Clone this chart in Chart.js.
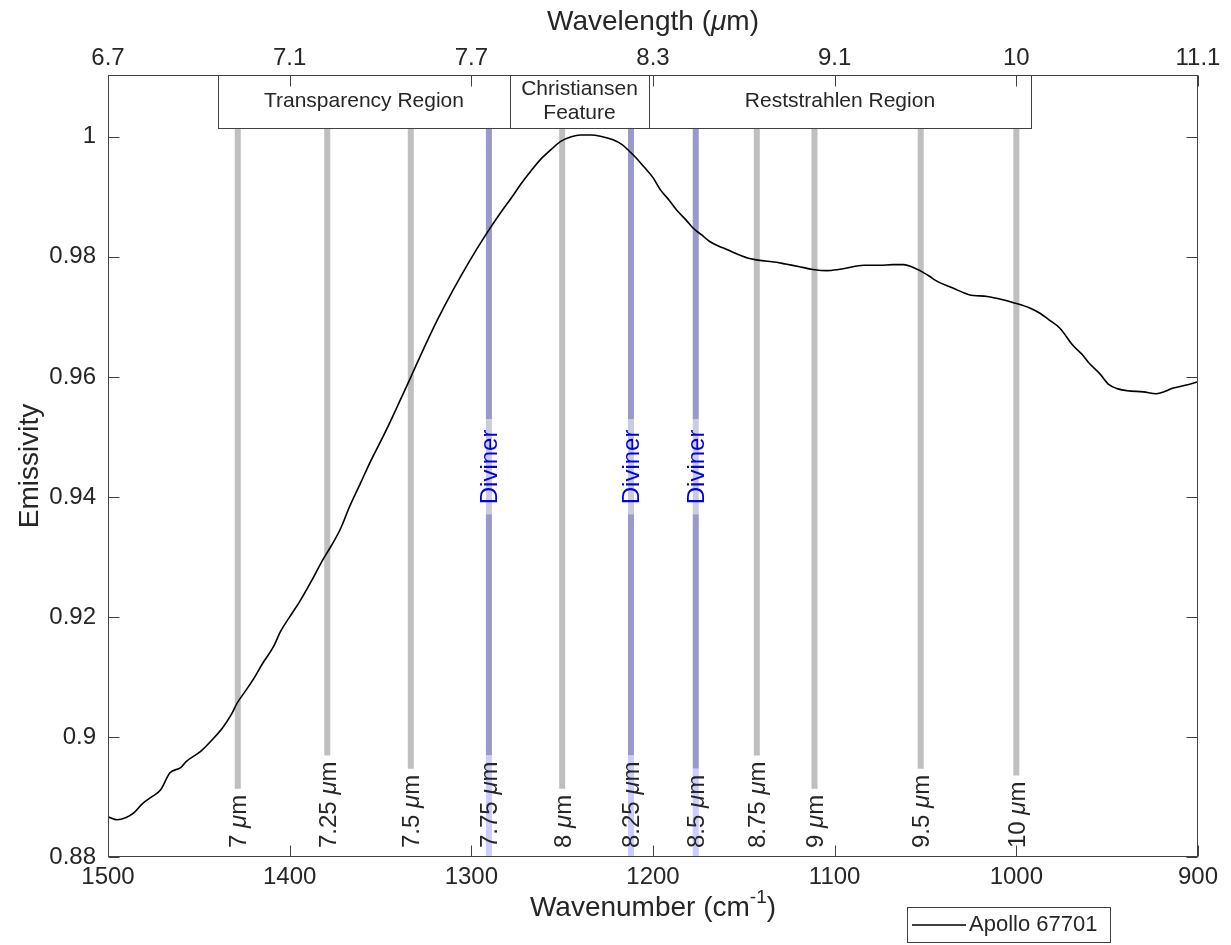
<!DOCTYPE html>
<html>
<head>
<meta charset="utf-8">
<script src="https://cdn.jsdelivr.net/npm/chart.js@4.4.0/dist/chart.umd.min.js"></script>
<style>
  html, body { margin: 0; padding: 0; background: #fff; }
  canvas { display: block; }
</style>
</head>
<body>
<canvas id="spectrumChart" width="1231" height="945"></canvas>
<script>
const FONT = "'Liberation Sans', Arial, sans-serif";
const INK = "#262626";

// ================= DATA =================
// Apollo 67701 emissivity spectrum (wavenumber in cm-1)
const wavenumbers = [
  1500, 1495, 1490, 1486, 1481, 1476, 1471, 1466, 1460, 1457, 1449, 1444, 1437, 1432,
  1429, 1424, 1419, 1415, 1409, 1405, 1400, 1394, 1388, 1382, 1377, 1372, 1367, 1361,
  1356, 1350, 1345, 1341, 1334, 1330, 1325, 1318, 1310, 1301, 1292, 1284, 1278, 1273,
  1268, 1262, 1256, 1251, 1245, 1240, 1234, 1229, 1222, 1217, 1213, 1209, 1205, 1200,
  1196, 1191, 1187, 1182, 1178, 1173, 1169, 1164, 1159, 1154, 1148, 1143, 1138, 1132,
  1127, 1120, 1112, 1104, 1098, 1094, 1084, 1075, 1068, 1062, 1058, 1053, 1048, 1044,
  1035, 1026, 1016, 1008, 1002, 992, 987, 982, 976, 969, 964, 960, 954, 949, 944, 939,
  930, 923, 918, 914, 907, 900
];
const emissivity = [
  0.8867, 0.8862, 0.8866, 0.8873, 0.8889, 0.8900, 0.8912, 0.8940, 0.8949, 0.8959, 0.8976, 0.8991, 0.9015, 0.9038,
  0.9056, 0.9078, 0.9101, 0.9122, 0.9150, 0.9176, 0.9200, 0.9228, 0.9260, 0.9294, 0.9319, 0.9347, 0.9384, 0.9423,
  0.9456, 0.9492, 0.9523, 0.9549, 0.9595, 0.9622, 0.9655, 0.9699, 0.9745, 0.9793, 0.9837, 0.9873, 0.9898, 0.9920,
  0.9940, 0.9962, 0.9979, 0.9992, 1.0000, 1.0003, 1.0003, 1.0001, 0.9995, 0.9987, 0.9976, 0.9964, 0.9950, 0.9932,
  0.9912, 0.9894, 0.9878, 0.9862, 0.9848, 0.9836, 0.9826, 0.9818, 0.9812, 0.9805, 0.9798, 0.9795, 0.9793, 0.9791,
  0.9788, 0.9784, 0.9779, 0.9777, 0.9779, 0.9781, 0.9786, 0.9786, 0.9787, 0.9787, 0.9784, 0.9777, 0.9768, 0.9760,
  0.9748, 0.9737, 0.9734, 0.9729, 0.9724, 0.9714, 0.9706, 0.9695, 0.9681, 0.9653, 0.9638, 0.9623, 0.9605, 0.9587, 0.9580, 0.9577,
  0.9575, 0.9572, 0.9576, 0.9581, 0.9586, 0.9592
];

// axis ticks
const wavenumberTicks = [1500, 1400, 1300, 1200, 1100, 1000, 900];
const wavenumberTickLabels = ["1500", "1400", "1300", "1200", "1100", "1000", "900"];
const wavelengthTickLabels = ["6.7", "7.1", "7.7", "8.3", "9.1", "10", "11.1"];
const emissivityTicks = [0.88, 0.90, 0.92, 0.94, 0.96, 0.98, 1.00];
const emissivityTickLabels = ["0.88", "0.9", "0.92", "0.94", "0.96", "0.98", "1"];

// band centres (um) and which of them are Diviner channels
const bandWavelengths = [7, 7.25, 7.5, 7.75, 8, 8.25, 8.5, 8.75, 9, 9.5, 10];
const bandLabels = ["7", "7.25", "7.5", "7.75", "8", "8.25", "8.5", "8.75", "9", "9.5", "10"];
const divinerBands = [7.75, 8.25, 8.5];

// spectral regions along the top (edges in cm-1)
const regionEdges = [1439.5, 1278.7, 1202.2, 992];
const regionLabels = [["Transparency Region"], ["Christiansen", "Feature"], ["Reststrahlen Region"]];

const BOX_BOTTOM = 1.0015;    // emissivity where the region boxes end
const DIVINER_AT = 0.945;     // emissivity where the "Diviner" tags sit
const TITLE_SIZE = 28;

// ================= HELPERS =================
function bandLabelParts(label) {
  return [
    { text: label + " ", font: "24px " + FONT },
    { text: "\u03bc", font: "italic 24px " + FONT },
    { text: "m", font: "24px " + FONT }
  ];
}

function partsWidth(ctx, parts) {
  let w = 0;
  parts.forEach(p => { ctx.font = p.font; w += ctx.measureText(p.text).width; });
  return w;
}

function vline(ctx, x, y0, y1, color, width) {
  ctx.beginPath();
  ctx.strokeStyle = color;
  ctx.lineWidth = width;
  ctx.moveTo(x, y0);
  ctx.lineTo(x, y1);
  ctx.stroke();
}

// ================= BANDS + REGIONS (under the curve) =================
const bandPlugin = {
  id: "bands",
  beforeDatasetsDraw(chart) {
    const { ctx, chartArea: a, scales: { x, y } } = chart;
    const top = y.getPixelForValue(BOX_BOTTOM);
    const divY = y.getPixelForValue(DIVINER_AT);
    ctx.save();

    bandWavelengths.forEach((um, i) => {
      const px = x.getPixelForValue(10000 / um);
      const parts = bandLabelParts(bandLabels[i]);
      const w = partsWidth(ctx, parts);
      const start = a.bottom - 9;
      const end = start - w - 6;
      const isDiviner = divinerBands.includes(um);

      if (isDiviner) {
        ctx.font = "24px " + FONT;
        const dw = ctx.measureText("Diviner").width;
        const d0 = divY - dw / 2 - 10, d1 = divY + dw / 2 + 10;
        vline(ctx, px, top, d0, "#9999cc", 6);
        vline(ctx, px, d0, d1, "#cbcbdf", 6);
        vline(ctx, px, d1, end, "#9999cc", 6);
        vline(ctx, px, end, a.bottom, "#ccccff", 6);
      } else {
        vline(ctx, px, top, end, "#bfbfbf", 6);
      }

      // rotated band label, reading upward from the axis
      ctx.save();
      ctx.translate(px, start);
      ctx.rotate(-Math.PI / 2);
      ctx.fillStyle = INK;
      ctx.textAlign = "left";
      ctx.textBaseline = "alphabetic";
      let off = 0;
      parts.forEach(p => {
        ctx.font = p.font;
        ctx.fillText(p.text, off, 8.5);
        off += ctx.measureText(p.text).width;
      });
      ctx.restore();

      if (isDiviner) {
        ctx.save();
        ctx.translate(px, divY);
        ctx.rotate(-Math.PI / 2);
        ctx.font = "24px " + FONT;
        ctx.fillStyle = "#0000e6";
        ctx.textAlign = "center";
        ctx.textBaseline = "alphabetic";
        ctx.fillText("Diviner", 0, 8.5);
        ctx.restore();
      }
    });

    // region boxes
    for (let i = 0; i < regionLabels.length; i++) {
      const xl = x.getPixelForValue(regionEdges[i]);
      const xr = x.getPixelForValue(regionEdges[i + 1]);
      ctx.fillStyle = "#ffffff";
      ctx.fillRect(xl, a.top, xr - xl, top - a.top);
      ctx.strokeStyle = "#404040";
      ctx.lineWidth = 1;
      ctx.strokeRect(Math.round(xl) + 0.5, a.top + 0.5, Math.round(xr - xl), Math.round(top - a.top));
      ctx.fillStyle = INK;
      ctx.font = "21px " + FONT;
      ctx.textAlign = "center";
      ctx.textBaseline = "middle";
      const lines = regionLabels[i];
      const cy = (a.top + top) / 2;
      lines.forEach((t, k) => {
        ctx.fillText(t, (xl + xr) / 2, cy + (k - (lines.length - 1) / 2) * 24);
      });
    }
    ctx.restore();
  },

  // ================= FRAME, TICKS, TITLES, LEGEND =================
  afterDraw(chart) {
    const { ctx, chartArea: a, scales: { x, y } } = chart;
    ctx.save();
    ctx.strokeStyle = "#404040";
    ctx.lineWidth = 1;
    const L = Math.round(a.left) + 0.5, R = Math.round(a.right) - 0.5;
    const T = Math.round(a.top) + 0.5, B = Math.round(a.bottom) - 0.5;
    ctx.strokeRect(L, T, R - L, B - T);

    const tl = 11;
    ctx.beginPath();
    wavenumberTicks.forEach(v => {
      const px = Math.round(x.getPixelForValue(v)) + 0.5;
      ctx.moveTo(px, B); ctx.lineTo(px, B - tl);
      ctx.moveTo(px, T); ctx.lineTo(px, T + tl);
    });
    emissivityTicks.forEach(v => {
      const py = Math.round(y.getPixelForValue(v)) + 0.5;
      ctx.moveTo(L, py); ctx.lineTo(L + tl, py);
      ctx.moveTo(R, py); ctx.lineTo(R - tl, py);
    });
    ctx.stroke();

    const cx = (a.left + a.right) / 2;
    const big = TITLE_SIZE + "px " + FONT;
    const small = Math.round(TITLE_SIZE * 0.68) + "px " + FONT;
    ctx.fillStyle = INK;
    ctx.textBaseline = "middle";

    // bottom title with superscript
    const main = "Wavenumber (cm", sup = "-1", tail = ")";
    ctx.font = big;
    const wMain = ctx.measureText(main).width, wTail = ctx.measureText(tail).width;
    ctx.font = small;
    const wSup = ctx.measureText(sup).width;
    let tx = cx - (wMain + wSup + wTail) / 2;
    const ty = 908;
    ctx.textAlign = "left";
    ctx.font = big;
    ctx.fillText(main, tx, ty); tx += wMain;
    ctx.font = small;
    ctx.fillText(sup, tx, ty - 10); tx += wSup;
    ctx.font = big;
    ctx.fillText(tail, tx, ty);

    // top title with italic mu
    const tParts = [
      { text: "Wavelength (", font: big },
      { text: "\u03bc", font: "italic " + big },
      { text: "m)", font: big }
    ];
    let ux = cx - partsWidth(ctx, tParts) / 2;
    tParts.forEach(p => {
      ctx.font = p.font;
      ctx.fillText(p.text, ux, 22);
      ux += ctx.measureText(p.text).width;
    });

    // left title
    ctx.save();
    ctx.translate(30, (a.top + a.bottom) / 2);
    ctx.rotate(-Math.PI / 2);
    ctx.textAlign = "center";
    ctx.font = big;
    ctx.fillText("Emissivity", 0, 0);
    ctx.restore();

    // legend
    const ds = chart.data.datasets[0];
    const lx = 907, ly = 907, lw = 203, lh = 35;
    ctx.fillStyle = "#ffffff";
    ctx.fillRect(lx, ly, lw, lh);
    ctx.strokeStyle = "#404040";
    ctx.strokeRect(lx + 0.5, ly + 0.5, lw, lh);
    ctx.beginPath();
    ctx.strokeStyle = ds.borderColor;
    ctx.lineWidth = ds.borderWidth;
    ctx.moveTo(912, ly + 18); ctx.lineTo(966, ly + 18);
    ctx.stroke();
    ctx.fillStyle = INK;
    ctx.font = "22px " + FONT;
    ctx.textAlign = "left";
    ctx.fillText(ds.label, 969, ly + 18);
    ctx.restore();
  }
};

// ================= CHART =================
function tickFont() { return { family: FONT, size: 24 }; }

new Chart(document.getElementById("spectrumChart"), {
  type: "line",
  data: {
    datasets: [{
      label: "Apollo 67701",
      data: wavenumbers.map((w, i) => ({ x: w, y: emissivity[i] })),
      borderColor: "#000000",
      borderWidth: 1.6,
      pointRadius: 0,
      cubicInterpolationMode: "monotone",
      fill: false
    }]
  },
  options: {
    responsive: false,
    animation: false,
    devicePixelRatio: 1,
    layout: { padding: { left: 0, right: 33, top: 0, bottom: 0 } },
    plugins: { legend: { display: false }, tooltip: { enabled: false } },
    scales: {
      x: {
        type: "linear", position: "bottom", reverse: true, min: 900, max: 1500,
        afterBuildTicks: s => { s.ticks = wavenumberTicks.map(v => ({ value: v })); },
        afterFit: s => { s.height = 88; },
        grid: { display: false, drawTicks: false },
        border: { display: false },
        ticks: {
          padding: 6, color: INK, font: tickFont(), maxRotation: 0, autoSkip: false,
          callback: (v, i) => wavenumberTickLabels[i]
        }
      },
      x2: {
        type: "linear", position: "top", reverse: true, min: 900, max: 1500,
        afterBuildTicks: s => { s.ticks = wavenumberTicks.map(v => ({ value: v })); },
        afterFit: s => { s.height = 75; },
        grid: { display: false, drawTicks: false },
        border: { display: false },
        ticks: {
          padding: 2, color: INK, font: tickFont(), maxRotation: 0, autoSkip: false,
          callback: (v, i) => wavelengthTickLabels[i]
        }
      },
      y: {
        min: 0.88, max: 1.0103,
        afterBuildTicks: s => { s.ticks = emissivityTicks.map(v => ({ value: v })); },
        afterFit: s => { s.width = 108; },
        grid: { display: false, drawTicks: false },
        border: { display: false },
        ticks: {
          padding: 12, color: INK, font: tickFont(),
          callback: (v, i) => emissivityTickLabels[i]
        }
      }
    }
  },
  plugins: [bandPlugin]
});
</script>
</body>
</html>
